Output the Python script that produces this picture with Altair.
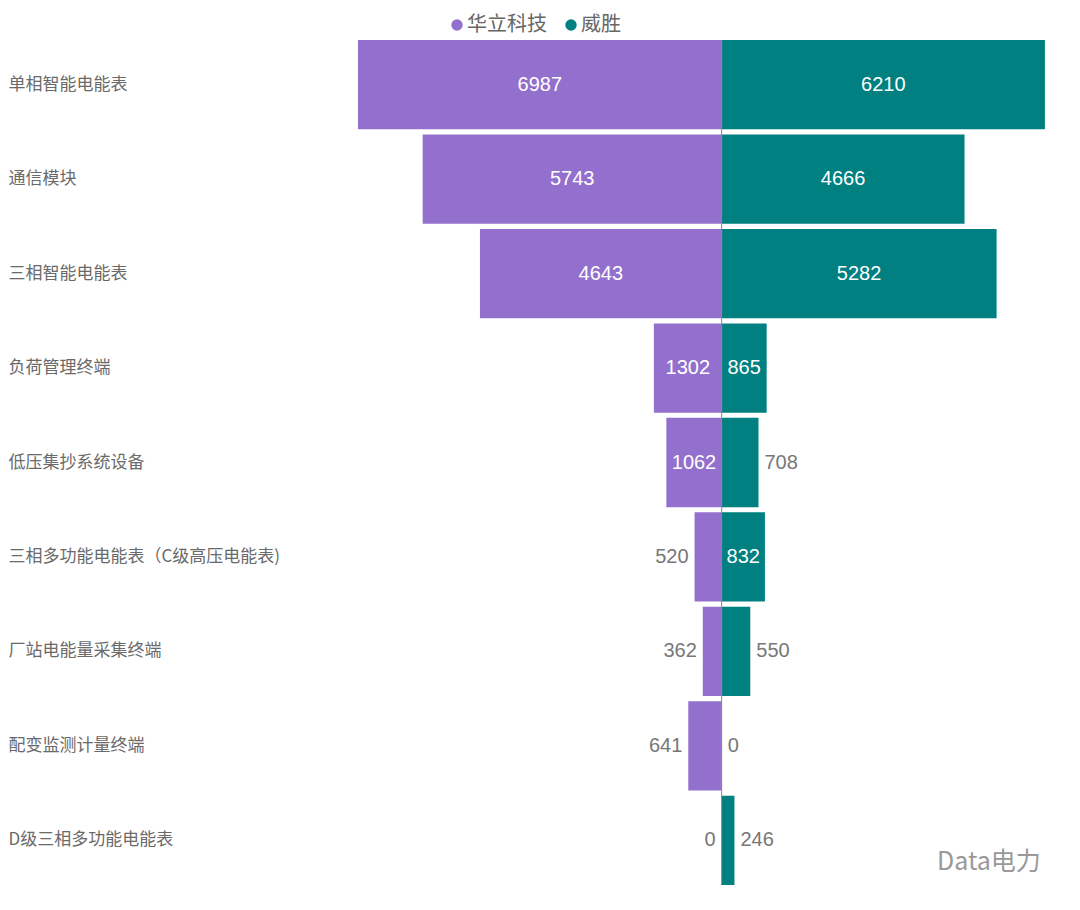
import altair as alt
import pandas as pd

categories = ["单相智能电能表", "通信模块", "三相智能电能表", "负荷管理终端", "低压集抄系统设备",
              "三相多功能电能表（C级高压电能表)", "厂站电能量采集终端", "配变监测计量终端", "D级三相多功能电能表"]
series_names = ["华立科技", "威胜"]
huali = [6987, 5743, 4643, 1302, 1062, 520, 362, 641, 0]
weisheng = [6210, 4666, 5282, 865, 708, 832, 550, 0, 246]
colors = ["#9370CD", "#008080"]

rows = []
for c, a, b in zip(categories, huali, weisheng):
    rows.append({"cat": c, "series": series_names[0], "value": a, "signed": -a, "mid": -a / 2, "inside": a >= 800})
    rows.append({"cat": c, "series": series_names[1], "value": b, "signed": b, "mid": b / 2, "inside": b >= 800})
df = pd.DataFrame(rows)

xscale = alt.Scale(domain=[-8100, 6500], nice=False, zero=False)
yenc = alt.Y("cat:N", sort=categories, title=None,
             scale=alt.Scale(paddingInner=0.055, paddingOuter=0),
             axis=alt.Axis(domain=False, ticks=False, labelAlign="left", labelPadding=292,
                           labelFontSize=17, labelColor="#6a6a6a", labelFont="Noto Sans CJK SC",
                           labelLimit=300))

base = alt.Chart(df)

bars = base.mark_bar().encode(
    x=alt.X("signed:Q", scale=xscale, axis=None),
    y=yenc,
    color=alt.Color("series:N", scale=alt.Scale(domain=series_names, range=colors),
                    legend=alt.Legend(orient="none", legendX=147, legendY=-25, direction="horizontal",
                                      symbolType="circle", symbolSize=130, symbolStrokeWidth=0,
                                      labelFontSize=20, labelColor="#666666", labelFont="Noto Sans CJK SC",
                                      labelLimit=200,
                                      title=None, columnPadding=14, labelOffset=0)),
)

inside = base.transform_filter("datum.inside").mark_text(
    color="white", fontSize=20, font="Liberation Sans", baseline="middle"
).encode(x=alt.X("mid:Q", scale=xscale), y=yenc, text="value:Q")

out_left = base.transform_filter(f"!datum.inside && datum.series == '{series_names[0]}'").mark_text(
    color="#777777", fontSize=20, font="Liberation Sans", baseline="middle", align="right", dx=-6
).encode(x=alt.X("signed:Q", scale=xscale), y=yenc, text="value:Q")

out_right = base.transform_filter(f"!datum.inside && datum.series == '{series_names[1]}'").mark_text(
    color="#777777", fontSize=20, font="Liberation Sans", baseline="middle", align="left", dx=6
).encode(x=alt.X("signed:Q", scale=xscale), y=yenc, text="value:Q")

center = alt.Chart(pd.DataFrame({"z": [0]})).mark_rule(color="#888888", strokeWidth=1).encode(
    x=alt.X("z:Q", scale=xscale)
)

watermark = alt.Chart(pd.DataFrame({"t": ["Data电力"]})).mark_text(
    color="#999999", fontSize=25, font="Noto Sans CJK SC", align="left", baseline="middle"
).encode(text="t:N", x=alt.value(637), y=alt.value(822))

chart = alt.layer(bars, inside, out_left, out_right, center, watermark).properties(
    width=760, height=845,
    autosize=alt.AutoSizeParams(type="none"),
    padding={"left": 292, "top": 32, "right": 12, "bottom": 17},
).configure_view(stroke=None)

chart.save("out.html", embed_options={"renderer": "svg", "actions": False})
